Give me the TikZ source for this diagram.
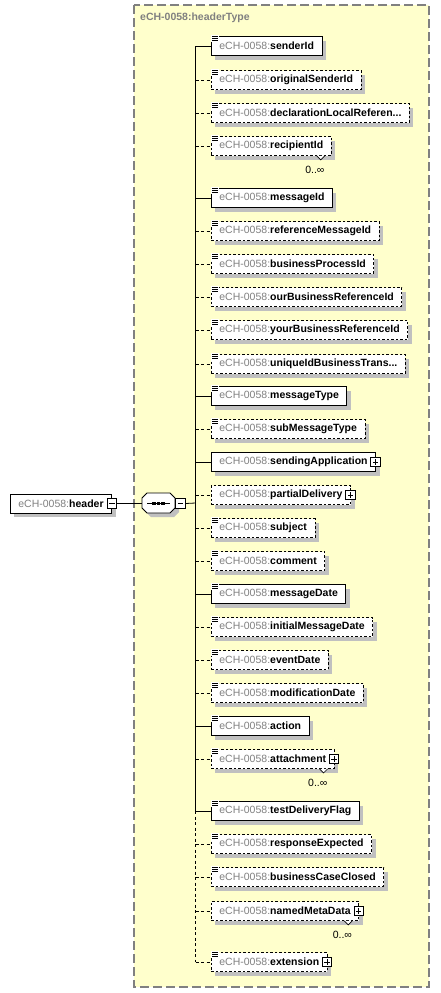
\documentclass[tikz,border=0pt]{standalone}
\usepackage{fontspec}
\setmainfont{Liberation Sans}
\usetikzlibrary{calc,shadows}
\definecolor{bgyellow}{RGB}{255,255,204}
\definecolor{framegray}{RGB}{128,128,128}
\definecolor{nsgray}{RGB}{128,128,128}
\definecolor{shgray}{RGB}{192,192,192}
\newcommand{\ns}{\textcolor{nsgray}{eCH-0058:}}
\newcommand{\elem}[4]{\node[#4] (#1) at (211,#2) {\ns\textbf{#3}};}
\newcommand{\elemicon}[1]{%
  \fill[white] ($(#1.north west)+(-0.5,-1)$) rectangle ($(#1.north west)+(7.5,5.5)$);
  \foreach \k in {0.6,2.4,4.2} \draw[line width=0.7pt] ($(#1.north west)+(1,\k)$) -- ++(6,0);}
\newcommand{\plusbox}[2]{%
  \node[sqbox] (#2) at ($(#1.east)+(-0.5,0)$) {};
  \draw[line width=0.7pt] ($(#2.center)+(-2.6,0)$) -- ($(#2.center)+(2.6,0)$);
  \draw[line width=0.7pt] ($(#2.center)+(0,-2.6)$) -- ($(#2.center)+(0,2.6)$);}
\newcommand{\multi}[1]{%
  \draw[line width=0.7pt,fill=white] ($(#1.south east)+(-15,0)$) -- ++(4,4) -- ++(4,-4);
  \node[multlabel] at ($(#1.south east)+(-7,14)$) {0..∞};}
\tikzset{
  txt/.style={font=\fontsize{10.5}{12}\selectfont},
  reqbox/.style={txt, draw=black, line width=0.8pt, fill=white, minimum height=19, inner xsep=8, inner ysep=0, anchor=west,
    general shadow={fill=shgray, shadow xshift=4pt, shadow yshift=-4pt}},
  optbox/.style={reqbox, dash pattern=on 2.5pt off 2pt},
  sqbox/.style={draw=black, line width=0.7pt, fill=white, minimum size=9.5, inner sep=0},
  multlabel/.style={txt, anchor=east, inner sep=0},
  conn/.style={line width=0.8pt},
  optconn/.style={conn, dash pattern=on 3pt off 2.5pt},
}
\begin{document}
\begin{tikzpicture}[x=1pt,y=-1pt]
\useasboundingbox (0,0) rectangle (440,993);
% complex type frame
\draw[fill=bgyellow, draw=framegray, line width=1.3pt, dash pattern=on 9pt off 4pt] (134,5) rectangle (429,987);
\node[txt, anchor=west, inner sep=0, text=framegray, font=\fontsize{10.5}{12}\selectfont\bfseries] (title) at (140,17.5) {eCH-0058:headerType};
\coordinate (spine) at (195.5,503);
% header element
\node[reqbox] (hdr) at (10,503.5) {\ns\textbf{header}\hspace{5pt}};
\node[sqbox] (hdrm) at (hdr.east) {};
\draw[line width=0.7pt] ($(hdrm.center)+(-2.6,0)$) -- ($(hdrm.center)+(2.6,0)$);
% sequence compositor
\node[minimum width=33, minimum height=20, inner sep=0] (seq) at (158.5,503.5) {};
\fill[shgray] (151,497) -- (174,497) -- (179,502) -- (179,512) -- (174,517) -- (151,517) -- (146,512) -- (146,502) -- cycle;
\draw[line width=0.8pt, fill=white] (147,493) -- (170,493) -- (175,498) -- (175,508) -- (170,513) -- (147,513) -- (142,508) -- (142,498) -- cycle;
\draw[line width=0.8pt] (147,503.5) -- (170,503.5);
\foreach \dx in {154,158.5,163} \fill ($(\dx,503.5)+(-1.6,-1.6)$) rectangle ++(3.2,3.2);
\node[sqbox] (seqm) at (180.5,503.5) {};
\draw[line width=0.7pt] ($(seqm.center)+(-2.6,0)$) -- ($(seqm.center)+(2.6,0)$);
\draw[conn] (hdrm.east) -- (seq.west);
\draw[conn] (seqm.east) -- (spine);
% elements
\elem{senderId}{46}{senderId}{reqbox}
\elem{originalSenderId}{80}{originalSenderId}{optbox}
\elem{declarationLocalReference}{113}{declarationLocalReferen...}{optbox}
\elem{recipientId}{146}{recipientId}{optbox}
\elem{messageId}{198}{messageId}{reqbox}
\elem{referenceMessageId}{231}{referenceMessageId}{optbox}
\elem{businessProcessId}{264}{businessProcessId}{optbox}
\elem{ourBusinessReferenceId}{297}{ourBusinessReferenceId}{optbox}
\elem{yourBusinessReferenceId}{330}{yourBusinessReferenceId}{optbox}
\elem{uniqueIdBusinessTransaction}{364}{uniqueIdBusinessTrans...}{optbox}
\elem{messageType}{396}{messageType}{reqbox}
\elem{subMessageType}{429}{subMessageType}{optbox}
\elem{sendingApplication}{462}{sendingApplication\hspace{4pt}}{reqbox}
\elem{partialDelivery}{495}{partialDelivery\hspace{4pt}}{optbox}
\elem{subject}{528}{subject}{optbox}
\elem{comment}{561}{comment}{optbox}
\elem{messageDate}{594}{messageDate}{reqbox}
\elem{initialMessageDate}{627}{initialMessageDate}{optbox}
\elem{eventDate}{660}{eventDate}{optbox}
\elem{modificationDate}{693}{modificationDate}{optbox}
\elem{action}{726}{action}{reqbox}
\elem{attachment}{759}{attachment\hspace{4pt}}{optbox}
\elem{testDeliveryFlag}{811}{testDeliveryFlag}{reqbox}
\elem{responseExpected}{844}{responseExpected}{optbox}
\elem{businessCaseClosed}{877}{businessCaseClosed}{optbox}
\elem{namedMetaData}{911}{namedMetaData\hspace{4pt}}{optbox}
\elem{extension}{962}{extension\hspace{4pt}}{optbox}
% spine
\draw[conn] (senderId.west -| spine) -- (testDeliveryFlag.west -| spine);
\draw[optconn] (testDeliveryFlag.west -| spine) -- (extension.west -| spine);
% connectors
\foreach \n in {senderId,messageId,messageType,sendingApplication,messageDate,action,testDeliveryFlag}
  \draw[conn] (\n.west -| spine) -- (\n.west);
\foreach \n in {originalSenderId,declarationLocalReference,recipientId,referenceMessageId,businessProcessId,ourBusinessReferenceId,yourBusinessReferenceId,uniqueIdBusinessTransaction,subMessageType,partialDelivery,subject,comment,initialMessageDate,eventDate,modificationDate,attachment,responseExpected,businessCaseClosed,namedMetaData,extension}
  \draw[optconn] (\n.west -| spine) -- (\n.west);
% type icons
\foreach \n in {senderId,originalSenderId,declarationLocalReference,recipientId,messageId,referenceMessageId,businessProcessId,ourBusinessReferenceId,yourBusinessReferenceId,uniqueIdBusinessTransaction,messageType,subMessageType,subject,comment,messageDate,initialMessageDate,eventDate,modificationDate,action,attachment,testDeliveryFlag,responseExpected,businessCaseClosed,extension}
  {\elemicon{\n}}
% expanders
\plusbox{sendingApplication}{sendingApplicationP}
\plusbox{partialDelivery}{partialDeliveryP}
\plusbox{attachment}{attachmentP}
\plusbox{namedMetaData}{namedMetaDataP}
\plusbox{extension}{extensionP}
% multiplicities
\multi{recipientId}
\multi{attachment}
\multi{namedMetaData}
\end{tikzpicture}
\end{document}
